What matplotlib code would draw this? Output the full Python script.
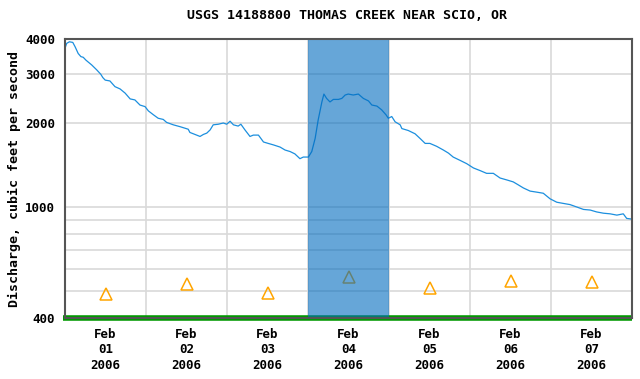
import matplotlib
matplotlib.use("Agg")
import matplotlib.pyplot as plt
from matplotlib.ticker import FixedLocator, NullFormatter, NullLocator

hours = [0, 0.5, 1.3, 2.3, 3.0, 3.9, 4.7, 5.4, 6.2, 7.9, 9.4, 10.6, 11.2, 11.9,
         13.3, 14.8, 16.3, 17.8, 19.3, 20.7, 22.2, 23.7, 24.7, 26.2, 27.6, 29.1,
         30.1, 32.1, 34.1, 36.5, 37.0, 38.5, 40.0, 41.0, 42.0, 43.0, 43.9, 45.4,
         46.9, 47.9, 48.9, 49.9, 51.3, 52.1, 53.3, 54.8, 55.8, 57.3, 58.8, 60.2,
         61.7, 63.7, 65.2, 66.7, 68.1, 69.6, 70.6, 72.1, 73.1, 74.1, 75.0, 76.1,
         76.7, 77.5, 78.5, 79.5, 81.0, 82.0, 83.0, 83.9, 85.4, 86.9, 88.4, 89.9,
         90.9, 92.4, 93.8, 95.1, 95.8, 96.8, 97.8, 99.3, 99.8, 101.7, 103.7,
         105.2, 106.7, 108.1, 110.1, 112.1, 113.6, 115.0, 117.0, 119.0, 121.0,
         123.0, 124.9, 126.9, 128.9, 130.9, 132.8, 134.3, 135.8, 137.8, 139.8,
         141.7, 143.7, 145.7, 147.6, 149.6, 151.6, 153.6, 155.6, 157.5, 159.5,
         161.5, 163.5, 165.4, 166.4, 167.9]
discharge = [3710, 3860, 3910, 3890, 3750, 3550, 3460, 3440, 3360, 3230, 3100,
             2990, 2910, 2850, 2830, 2700, 2650, 2560, 2440, 2420, 2320, 2290,
             2210, 2140, 2080, 2060, 2010, 1970, 1940, 1900, 1850, 1820, 1790,
             1820, 1840, 1890, 1970, 1980, 2000, 1980, 2030, 1970, 1950, 1980,
             1890, 1790, 1810, 1810, 1710, 1690, 1670, 1640, 1600, 1580, 1550,
             1490, 1510, 1510, 1580, 1760, 2050, 2380, 2540, 2450, 2380, 2430,
             2430, 2450, 2520, 2540, 2520, 2540, 2450, 2400, 2320, 2300, 2230,
             2140, 2080, 2110, 2020, 1970, 1910, 1880, 1830, 1760, 1690, 1690,
             1650, 1600, 1560, 1510, 1470, 1430, 1380, 1350, 1320, 1320, 1270,
             1250, 1230, 1200, 1170, 1140, 1130, 1120, 1070, 1040, 1030, 1020,
             1000, 980, 975, 960, 950, 945, 935, 945, 910, 905]

# daily median statistics (triangles), plotted at noon
median_hours = [12, 36, 60, 84, 108, 132, 156]
median_flow = [487, 530, 492, 560, 512, 542, 537]

day_labels = ["Feb\n01\n2006", "Feb\n02\n2006", "Feb\n03\n2006", "Feb\n04\n2006",
              "Feb\n05\n2006", "Feb\n06\n2006", "Feb\n07\n2006"]
shade_start, shade_end = 72, 96

mono = "DejaVu Sans Mono"

fig = plt.figure(figsize=(6.4, 3.79), dpi=100)
ax = fig.add_axes([0.1016, 0.161, 0.886, 0.736])

ax.set_yscale("log")
ax.set_ylim(400, 4000)
ax.set_xlim(0, 168)

# grid
for y in [500, 600, 700, 800, 900, 1000, 2000, 3000]:
    ax.axhline(y, color="#d9d9d9", lw=1.2, zorder=1)
for x in [24, 48, 72, 96, 120, 144]:
    ax.axvline(x, color="#d9d9d9", lw=1.2, zorder=1)

ax.plot(hours, discharge, color="#1c8fde", lw=0.9, zorder=3)
ax.plot(median_hours, median_flow, ls="none", marker="^", ms=8,
        mfc="none", mec="#ffa500", mew=1.1, zorder=3)
ax.plot([-0.5, 168], [400, 400], color="#009900", lw=4, zorder=4,
        clip_on=False, solid_capstyle="butt")

ax.axvspan(shade_start, shade_end, color="#006bbe", alpha=0.6, lw=0, zorder=5)

ax.yaxis.set_major_locator(FixedLocator([400, 1000, 2000, 3000, 4000]))
ax.yaxis.set_minor_locator(NullLocator())
ax.yaxis.set_minor_formatter(NullFormatter())
ax.set_yticklabels(["400", "1000", "2000", "3000", "4000"])
ax.set_xticks(median_hours)
ax.set_xticklabels(day_labels, linespacing=1.25)
ax.tick_params(length=0, labelsize=9)
for lab in ax.get_xticklabels() + ax.get_yticklabels():
    lab.set_fontfamily(mono)
    lab.set_fontweight("bold")
ax.tick_params(axis="y", pad=7)
ax.tick_params(axis="x", pad=7)

for s in ax.spines.values():
    s.set_color("#555555")
    s.set_linewidth(1.5)
    s.set_zorder(6)

ax.set_ylabel("Discharge, cubic feet per second", fontfamily=mono,
              fontweight="bold", fontsize=9.5, labelpad=3)
fig.suptitle("USGS 14188800 THOMAS CREEK NEAR SCIO, OR", fontfamily=mono,
             fontweight="bold", fontsize=9.5, x=0.542, y=0.975)

fig.savefig("out.png", dpi=100)
